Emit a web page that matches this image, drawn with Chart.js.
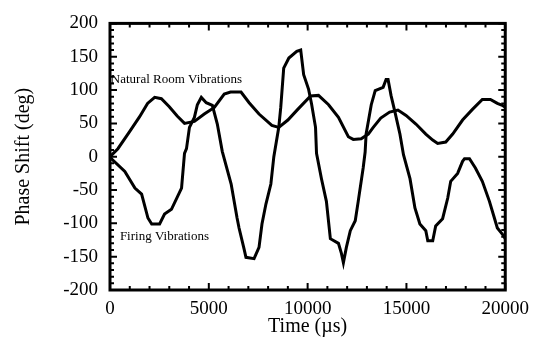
<!DOCTYPE html>
<html>
<head>
<meta charset="utf-8">
<script src="https://cdn.jsdelivr.net/npm/chart.js@4.4.1/dist/chart.umd.min.js"></script>
<style>
  html, body { margin: 0; padding: 0; background: #fff; }
  #wrap { width: 537px; height: 345px; }
</style>
</head>
<body>
<div id="wrap"><canvas id="phaseChart" width="537" height="345"></canvas></div>
<script>
// 축 눈금
const xTicks = [0, 5000, 10000, 15000, 20000];
const yTicks = [-200, -150, -100, -50, 0, 50, 100, 150, 200];

// Natural Room Vibrations
const natTime = [0, 400, 1000, 1500, 1900, 2260, 2600, 3000, 3400, 3770, 4270, 4770, 5280, 5780, 6100, 6630, 7040, 7540, 8190, 8540, 9000, 9500, 10150, 10550, 11060, 11560, 12060, 12310, 12710, 13070, 13320, 13700, 14150, 14570, 14980, 15480, 15980, 16330, 16580, 16990, 17340, 17840, 18340, 18840, 19250, 19600, 19850, 20000];
const natPhase = [0, 12, 38, 60, 80, 89, 87, 75, 61, 50, 53, 64, 74, 94, 97, 97, 81, 64, 47, 44, 55, 71, 91, 92, 78, 59, 30, 26, 27, 34, 44, 58, 67, 70, 62, 49, 34, 25, 20, 22, 34, 55, 71, 86, 86, 80, 77, 74];

// Firing Vibrations
const fireTime = [0, 100, 750, 1260, 1600, 1920, 2110, 2510, 2760, 3110, 3620, 3770, 3870, 4020, 4270, 4420, 4620, 4870, 5180, 5430, 5680, 6130, 6430, 6530, 6780, 6880, 7290, 7540, 7690, 7890, 8140, 8290, 8540, 8640, 8790, 9050, 9450, 9650, 9800, 10050, 10200, 10400, 10450, 10700, 10950, 11150, 11560, 11710, 11810, 11960, 12160, 12410, 12560, 12810, 12910, 12960, 13220, 13420, 13820, 13970, 14070, 14220, 14420, 14670, 14850, 15180, 15430, 15680, 15980, 16080, 16330, 16480, 16830, 17090, 17240, 17590, 17840, 17940, 18190, 18490, 18840, 19200, 19450, 19600, 19850, 20000];
const firePhase = [0, -4, -22, -47, -56, -92, -101, -101, -86, -79, -47, 5, 12, 44, 59, 78, 89, 81, 77, 49, 8, -41, -92, -107, -138, -151, -153, -136, -101, -71, -41, 0, 44, 74, 133, 148, 158, 160, 123, 101, 79, 44, 5, -33, -67, -123, -130, -145, -159, -136, -111, -96, -67, -17, 7, 34, 78, 99, 104, 116, 116, 92, 67, 34, 3, -33, -77, -101, -111, -126, -126, -104, -93, -62, -37, -25, -7, -3, -3, -17, -37, -67, -92, -107, -116, -123];

const serif = "'Liberation Serif', 'DejaVu Serif', serif";

const toPoints = (xs, ys) => xs.map((v, i) => ({ x: v, y: ys[i] }));

// 프레임, 안쪽 눈금, 곡선 라벨
const frameTicks = {
  id: "frameTicks",
  afterDatasetsDraw(chart) {
    const { ctx, chartArea: a, scales } = chart;
    const x = scales.x;
    const y = scales.y;
    ctx.save();
    ctx.strokeStyle = "#000";
    ctx.lineWidth = 2;
    ctx.beginPath();
    for (let v = 0; v <= 20000; v += 1000) {
      const px = x.getPixelForValue(v);
      const len = v % 5000 === 0 ? 7 : 4;
      ctx.moveTo(px, a.bottom); ctx.lineTo(px, a.bottom - len);
      ctx.moveTo(px, a.top); ctx.lineTo(px, a.top + len);
    }
    for (let v = -200; v <= 200; v += 10) {
      const py = y.getPixelForValue(v);
      const len = v % 50 === 0 ? 7 : 4;
      ctx.moveTo(a.left, py); ctx.lineTo(a.left + len, py);
      ctx.moveTo(a.right, py); ctx.lineTo(a.right - len, py);
    }
    ctx.stroke();
    ctx.lineWidth = 3;
    ctx.strokeRect(a.left, a.top, a.right - a.left, a.bottom - a.top);

    ctx.fillStyle = "#000";
    ctx.font = "13px " + serif;
    ctx.textBaseline = "middle";
    ctx.textAlign = "left";
    ctx.fillText("Natural Room Vibrations", x.getPixelForValue(40), y.getPixelForValue(115));
    ctx.fillText("Firing Vibrations", x.getPixelForValue(500), y.getPixelForValue(-120));
    ctx.restore();
  },
};

const canvas = document.getElementById("phaseChart");
const phaseChart = new Chart(canvas, {
  type: "line",
  data: {
    datasets: [
      {
        label: "Natural Room Vibrations",
        data: toPoints(natTime, natPhase),
        borderColor: "#000",
        borderWidth: 3,
        pointRadius: 0,
        tension: 0,
      },
      {
        label: "Firing Vibrations",
        data: toPoints(fireTime, firePhase),
        borderColor: "#000",
        borderWidth: 3,
        pointRadius: 0,
        tension: 0,
      },
    ],
  },
  options: {
    responsive: false,
    animation: { duration: 0 },
    layout: {
      padding: { left: 0, right: 29, top: 20, bottom: 0 },
    },
    plugins: {
      legend: { display: false },
      tooltip: { enabled: false },
    },
    scales: {
      x: {
        type: "linear",
        min: 0,
        max: 20000,
        afterBuildTicks: (scale) => {
          scale.ticks = xTicks.map((v) => ({ value: v }));
        },
        afterFit: (scale) => {
          scale.height = 55;
        },
        grid: { display: false, drawTicks: false },
        border: { display: false },
        ticks: {
          color: "#000",
          padding: 8,
          maxRotation: 0,
          font: { family: serif, size: 19 },
          callback: (v) => String(v),
        },
        title: {
          display: true,
          text: "Time (µs)",
          color: "#000",
          font: { family: serif, size: 20 },
          padding: { top: 0, bottom: 6 },
        },
      },
      y: {
        type: "linear",
        min: -200,
        max: 200,
        afterBuildTicks: (scale) => {
          scale.ticks = yTicks.map((v) => ({ value: v }));
        },
        afterFit: (scale) => {
          scale.width = 110;
        },
        grid: { display: false, drawTicks: false },
        border: { display: false },
        ticks: {
          color: "#000",
          padding: 12,
          font: { family: serif, size: 19 },
          callback: (v) => String(v),
        },
        title: {
          display: true,
          text: "Phase Shift (deg)",
          color: "#000",
          font: { family: serif, size: 20 },
          padding: { top: 12, bottom: 0 },
        },
      },
    },
  },
  plugins: [frameTicks],
});
</script>
</body>
</html>
